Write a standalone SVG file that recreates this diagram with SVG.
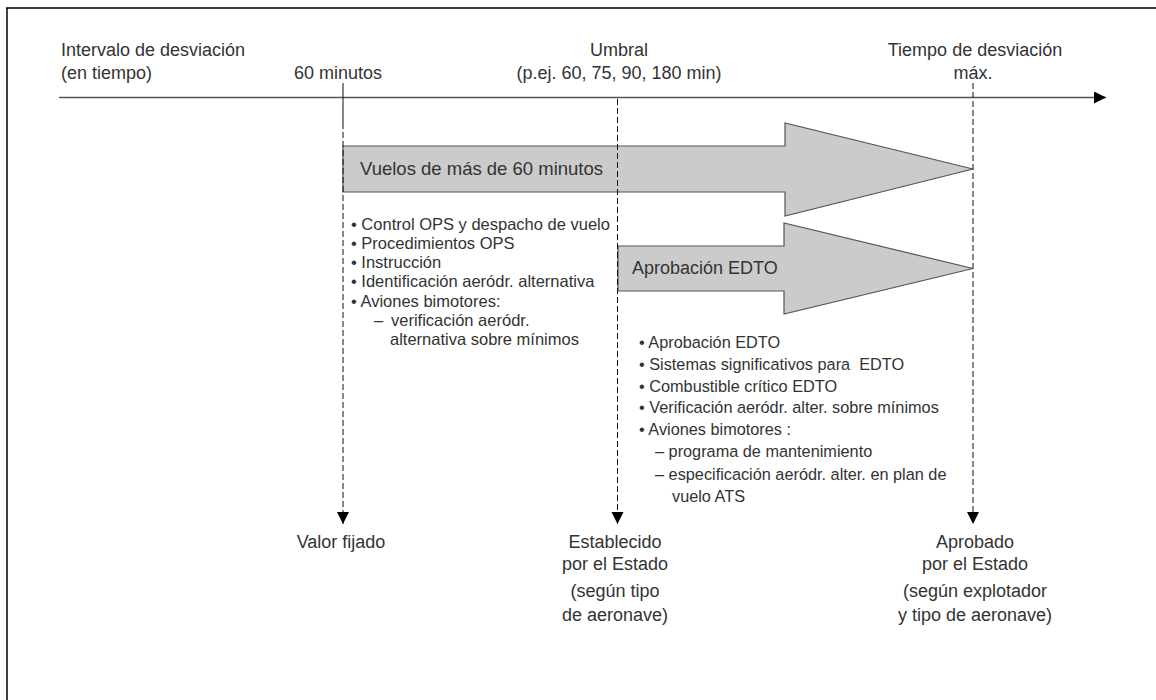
<svg xmlns="http://www.w3.org/2000/svg" width="1156" height="700" viewBox="0 0 1156 700">
<defs>
<style>
text{font-family:"Liberation Sans",Arial,sans-serif;fill:#333;}
.h{font-size:18px;}
.l{font-size:16.5px;}
.r{font-size:16.3px;}
.m{text-anchor:middle;}
.dash{stroke:#111;stroke-width:1;stroke-dasharray:6 3;fill:none;}
.big{fill:#cbcbcb;stroke:#555;stroke-width:1.2;}
</style>
<marker id="tri" viewBox="0 0 10 10" refX="10" refY="5" markerWidth="12" markerHeight="13" markerUnits="userSpaceOnUse" orient="auto">
<path d="M0,0 L10,5 L0,10 z" fill="#000"/>
</marker>
<marker id="axh" viewBox="0 0 10 10" refX="10" refY="5" markerWidth="19" markerHeight="12" markerUnits="userSpaceOnUse" orient="auto">
<path d="M0,0 L10,5 L0,10 z" fill="#000"/>
</marker>
</defs>
<rect width="1156" height="700" fill="#fff"/>
<g id="frame">
<line x1="6" y1="8" x2="1156" y2="8" stroke="#000" stroke-width="1.5"/>
<line x1="7" y1="8" x2="7" y2="700" stroke="#000" stroke-width="1.5"/>
</g>
<g id="axis">
<line x1="59" y1="97.5" x2="1106" y2="97.5" stroke="#555" stroke-width="1.5" marker-end="url(#axh)"/>
<text class="h" x="61" y="56">Intervalo de desviación</text>
<text class="h" x="61" y="79">(en tiempo)</text>
</g>
<g id="mark-60">
<text class="h m" x="338" y="79">60 minutos</text>
</g>
<g id="mark-umbral">
<text class="h m" x="619" y="56">Umbral</text>
<text class="h m" x="619" y="79">(p.ej. 60, 75, 90, 180 min)</text>
</g>
<g id="mark-max">
<text class="h m" x="975" y="56">Tiempo de desviación</text>
<text class="h m" x="973" y="79">máx.</text>
</g>
<g id="arrow-vuelos">
<polygon class="big" points="343,146 785,146 785,123 973,169 785,216 785,192 343,192"/>
<text x="360" y="175" style="font-size:18.5px">Vuelos de más de 60 minutos</text>
</g>
<g id="arrow-edto">
<polygon class="big" points="618,246 784,246 784,223 973,268.5 784,314 784,291 618,291"/>
<text x="632" y="274" class="h">Aprobación EDTO</text>
</g>
<g id="connectors">
<line x1="343" y1="83" x2="343" y2="123" stroke="#111" stroke-width="1"/>
<line class="dash" x1="343" y1="123" x2="343" y2="524" marker-end="url(#tri)"/>
<line class="dash" x1="617.5" y1="99" x2="617.5" y2="524" marker-end="url(#tri)"/>
<line class="dash" x1="973" y1="83" x2="973" y2="524" marker-end="url(#tri)"/>
</g>
<g id="list-60">
<text class="l" x="351" y="230">• Control OPS y despacho de vuelo</text>
<text class="l" x="351" y="249">• Procedimientos OPS</text>
<text class="l" x="351" y="268">• Instrucción</text>
<text class="l" x="351" y="287">• Identificación aeródr. alternativa</text>
<text class="l" x="351" y="307">• Aviones bimotores:</text>
<text class="l" x="374" y="326">–</text>
<text class="l" x="391" y="326">verificación aeródr.</text>
<text class="l" x="390" y="345">alternativa sobre mínimos</text>
</g>
<g id="list-edto">
<text class="r" x="639" y="348">• Aprobación EDTO</text>
<text class="r" x="639" y="370">• Sistemas significativos para&#160; EDTO</text>
<text class="r" x="639" y="392">• Combustible crítico EDTO</text>
<text class="r" x="639" y="413">• Verificación aeródr. alter. sobre mínimos</text>
<text class="r" x="639" y="435">• Aviones bimotores :</text>
<text class="r" x="655" y="457">– programa de mantenimiento</text>
<text class="r" x="655" y="480">– especificación aeródr. alter. en plan de</text>
<text class="r" x="672" y="502">vuelo ATS</text>
</g>
<g id="label-valor">
<text class="h m" x="341" y="548">Valor fijado</text>
</g>
<g id="label-establecido">
<text class="h m" x="615" y="548">Establecido</text>
<text class="h m" x="615" y="570">por el Estado</text>
<text class="h m" x="615" y="597">(según tipo</text>
<text class="h m" x="615" y="621">de aeronave)</text>
</g>
<g id="label-aprobado">
<text class="h m" x="975" y="548">Aprobado</text>
<text class="h m" x="975" y="570">por el Estado</text>
<text class="h m" x="975" y="597">(según explotador</text>
<text class="h m" x="975" y="621">y tipo de aeronave)</text>
</g>
</svg>
